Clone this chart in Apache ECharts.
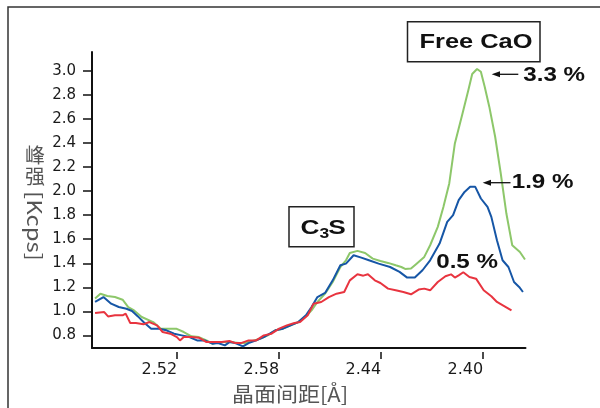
<!DOCTYPE html>
<html><head><meta charset="utf-8">
<script src="https://cdn.jsdelivr.net/npm/echarts@6/dist/echarts.min.js"></script>
<style>html,body{margin:0;padding:0;background:#fff}#c{width:600px;height:408px}</style>
</head><body><div id="c"></div>
<script>
// d-spacing ticks (labels as printed in the original figure)
const xTickValues = [2.52, 2.48, 2.44, 2.40];
const xTickLabels = ['2.52', '2.58', '2.44', '2.40'];
const yTickValues = [0.8, 1.0, 1.2, 1.4, 1.6, 1.8, 2.0, 2.2, 2.4, 2.6, 2.8, 3.0];

// Free CaO 3.3 % (green)
const greenX = [2.5522,2.5501,2.5474,2.5444,2.5414,2.5392,2.5369,2.5339,2.5294,2.5264,2.5234,2.5204,2.5174,2.5144,2.5115,2.5085,2.5062,2.5040,2.4995,2.4957,2.4935,2.4905,2.4875,2.4845,2.4815,2.4785,2.4755,2.4725,2.4695,2.4673,2.4650,2.4620,2.4590,2.4560,2.4538,2.4523,2.4493,2.4463,2.4433,2.4403,2.4373,2.4343,2.4321,2.4306,2.4283,2.4261,2.4231,2.4208,2.4178,2.4156,2.4133,2.4111,2.4081,2.4058,2.4043,2.4024,2.4009,2.3994,2.3976,2.3953,2.3931,2.3909,2.3886,2.3856,2.3836];
const greenY = [1.106,1.147,1.128,1.119,1.097,1.036,1.008,0.953,0.911,0.856,0.856,0.856,0.828,0.792,0.786,0.758,0.731,0.744,0.744,0.736,0.736,0.753,0.772,0.800,0.842,0.856,0.883,0.911,0.958,1.008,1.078,1.147,1.244,1.369,1.425,1.486,1.503,1.486,1.439,1.419,1.403,1.383,1.369,1.353,1.356,1.397,1.453,1.550,1.703,1.869,2.064,2.397,2.647,2.842,2.975,3.017,2.994,2.869,2.703,2.453,2.147,1.814,1.550,1.494,1.431];

// Free CaO 1.9 % (blue)
const blueX = [2.5522,2.5489,2.5459,2.5429,2.5399,2.5377,2.5354,2.5332,2.5302,2.5272,2.5242,2.5212,2.5182,2.5152,2.5122,2.5092,2.5062,2.5040,2.5013,2.4995,2.4972,2.4942,2.4920,2.4890,2.4860,2.4837,2.4815,2.4785,2.4755,2.4725,2.4695,2.4673,2.4650,2.4620,2.4590,2.4560,2.4538,2.4508,2.4478,2.4448,2.4410,2.4365,2.4328,2.4298,2.4268,2.4238,2.4208,2.4171,2.4141,2.4118,2.4096,2.4073,2.4051,2.4031,2.4009,2.3983,2.3968,2.3946,2.3924,2.3901,2.3879,2.3859,2.3844];
const blueY = [1.078,1.119,1.064,1.036,1.022,1.003,0.958,0.911,0.856,0.856,0.842,0.814,0.800,0.786,0.758,0.758,0.731,0.736,0.717,0.744,0.736,0.708,0.736,0.758,0.786,0.814,0.842,0.856,0.883,0.911,0.967,1.036,1.119,1.153,1.258,1.383,1.397,1.467,1.447,1.425,1.397,1.369,1.328,1.281,1.281,1.342,1.425,1.564,1.744,1.800,1.925,1.994,2.036,2.036,1.939,1.869,1.786,1.592,1.425,1.369,1.244,1.203,1.161];

// Free CaO 0.5 % (red)
const redX = [2.5522,2.5486,2.5471,2.5444,2.5414,2.5402,2.5384,2.5362,2.5332,2.5309,2.5279,2.5257,2.5227,2.5201,2.5189,2.5174,2.5144,2.5115,2.5085,2.5055,2.5025,2.4995,2.4972,2.4950,2.4920,2.4890,2.4860,2.4830,2.4800,2.4770,2.4740,2.4718,2.4688,2.4665,2.4635,2.4605,2.4575,2.4545,2.4523,2.4493,2.4470,2.4452,2.4425,2.4403,2.4373,2.4343,2.4313,2.4283,2.4253,2.4231,2.4208,2.4178,2.4148,2.4126,2.4111,2.4096,2.4078,2.4054,2.4028,2.3998,2.3968,2.3946,2.3916,2.3889];
const redY = [0.986,0.994,0.958,0.967,0.967,0.981,0.903,0.903,0.892,0.911,0.883,0.828,0.814,0.786,0.758,0.786,0.786,0.781,0.744,0.744,0.744,0.753,0.736,0.736,0.758,0.758,0.800,0.814,0.856,0.883,0.903,0.911,0.967,1.064,1.078,1.119,1.147,1.161,1.258,1.308,1.297,1.308,1.258,1.236,1.189,1.175,1.161,1.142,1.181,1.189,1.175,1.244,1.292,1.308,1.281,1.300,1.325,1.286,1.272,1.175,1.125,1.078,1.042,1.008];

const pairs = (xs, ys) => xs.map((x, i) => [x, ys[i]]);
const X_MIN = 2.3834, X_MAX = 2.5534, Y_MIN = 0.695, Y_MAX = 3.158;
const boldFont = 'bold 21px "Liberation Sans", Arial, sans-serif';
const nameFont = '20px "Noto Sans CJK SC", sans-serif';

function txt(text, x, y, font, opts) {
  return Object.assign({
    type: 'text', x: x, y: y, z: 100,
    style: { text: text, font: font, fill: '#111',
      align: 'left', verticalAlign: 'middle', textAlign: 'left', textVerticalAlign: 'middle' }
  }, opts || {});
}
function nameTxt(text, x, y, opts) {
  return Object.assign({
    type: 'text', x: x, y: y, z: 100,
    style: { text: text, font: nameFont, fill: '#555',
      align: 'center', verticalAlign: 'middle', textAlign: 'center', textVerticalAlign: 'middle' }
  }, opts || {});
}

const chart = echarts.init(document.getElementById('c'), null, { renderer: 'canvas' });
chart.setOption({
  animation: false,
  backgroundColor: '#fff',
  grid: { left: 92, right: 74.5, top: 52, bottom: 60, containLabel: false },
  xAxis: [{
    type: 'value', inverse: true, min: X_MIN, max: X_MAX,
    axisLine: { show: true, onZero: false, lineStyle: { color: '#111', width: 2 } },
    axisTick: { show: false },
    splitLine: { show: false },
    axisLabel: {
      customValues: xTickValues, margin: 14, align: 'right',
      fontFamily: '"DejaVu Sans", sans-serif', fontSize: 16, color: '#1a1a1a',
      formatter: function (v) {
        let best = 0;
        xTickValues.forEach((t, i) => { if (Math.abs(t - v) < Math.abs(xTickValues[best] - v)) best = i; });
        return xTickLabels[best];
      }
    }
  }, {
    type: 'value', inverse: true, min: X_MIN, max: X_MAX, position: 'bottom', offset: 4,
    axisLine: { show: false },
    axisTick: { show: true, customValues: xTickValues, length: 7, lineStyle: { color: '#111', width: 1.5 } },
    axisLabel: { show: false }, splitLine: { show: false }
  }],
  yAxis: {
    type: 'value', min: Y_MIN, max: Y_MAX,
    axisLine: { show: true, onZero: false, lineStyle: { color: '#111', width: 2 } },
    axisTick: { show: true, customValues: yTickValues, length: 9, lineStyle: { color: '#111', width: 1.5 } },
    splitLine: { show: false },
    axisLabel: {
      customValues: yTickValues, margin: 16,
      fontFamily: '"DejaVu Sans", sans-serif', fontSize: 15, color: '#1a1a1a',
      formatter: v => v.toFixed(1)
    }
  },
  series: [
    { type: 'line', name: '3.3 %', data: pairs(greenX, greenY), showSymbol: false, symbol: 'none',
      lineStyle: { color: '#8dc76a', width: 2 }, z: 2 },
    { type: 'line', name: '1.9 %', data: pairs(blueX, blueY), showSymbol: false, symbol: 'none',
      lineStyle: { color: '#1656a6', width: 2 }, z: 3 },
    { type: 'line', name: '0.5 %', data: pairs(redX, redY), showSymbol: false, symbol: 'none',
      lineStyle: { color: '#e8343f', width: 2 }, z: 4 }
  ],
  graphic: [
    { type: 'rect', z: 1, shape: { x: 8, y: 7, width: 700, height: 500 },
      style: { fill: 'none', stroke: '#333', lineWidth: 1.5 } },
    // Free CaO box
    { type: 'rect', z: 90, shape: { x: 407.5, y: 21.7, width: 132.5, height: 40 },
      style: { fill: '#fff', stroke: '#222', lineWidth: 1.5 } },
    txt('Free CaO', 419.5, 42.5, boldFont, { scaleX: 1.21 }),
    // C3S box
    { type: 'rect', z: 90, shape: { x: 289, y: 206.7, width: 65, height: 40 },
      style: { fill: '#fff', stroke: '#222', lineWidth: 1.5 } },
    txt('C', 300.4, 228, 'bold 21px "Liberation Sans", Arial, sans-serif', { scaleX: 1.25 }),
    txt('3', 319.5, 234.5, 'bold 14px "Liberation Sans", Arial, sans-serif', { scaleX: 1.25 }),
    txt('S', 328.3, 228, 'bold 21px "Liberation Sans", Arial, sans-serif', { scaleX: 1.25 }),
    // percentage annotations
    txt('3.3 %', 523.3, 75.5, boldFont, { scaleX: 1.15 }),
    txt('1.9 %', 511.7, 182.5, boldFont, { scaleX: 1.15 }),
    txt('0.5 %', 436.2, 262, boldFont, { scaleX: 1.15 }),
    { type: 'line', z: 100, shape: { x1: 497, y1: 74.3, x2: 518.3, y2: 74.3 }, style: { stroke: '#111', lineWidth: 1.3 } },
    { type: 'polygon', z: 100, shape: { points: [[491.7, 74.3], [500, 71.3], [500, 77.3]] }, style: { fill: '#111' } },
    { type: 'line', z: 100, shape: { x1: 488, y1: 182.7, x2: 510.5, y2: 182.7 }, style: { stroke: '#111', lineWidth: 1.3 } },
    { type: 'polygon', z: 100, shape: { points: [[482.7, 182.7], [491, 179.7], [491, 185.7]] }, style: { fill: '#111' } },
    // axis names
    nameTxt('峰', 35, 155.5),
    nameTxt('强', 35, 176),
    nameTxt('[Kcps]', 35, 226, { rotation: -Math.PI / 2, scaleX: 1.2 }),
    nameTxt('晶面间距[Å]', 290, 394, { scaleX: 1.1 })
  ]
});
</script></body></html>
